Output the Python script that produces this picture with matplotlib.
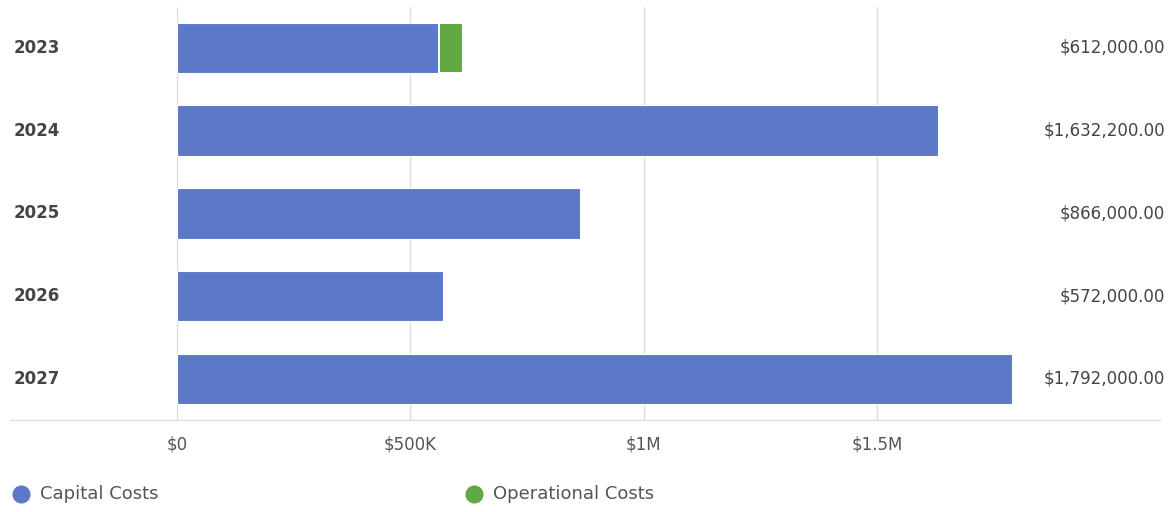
import matplotlib
matplotlib.use("Agg")
import matplotlib.pyplot as plt
import matplotlib.transforms as mtrans
from matplotlib.lines import Line2D

years = ["2023", "2024", "2025", "2026", "2027"]
capital = [562000, 1632200, 866000, 572000, 1792000]
operational = [50000, 0, 0, 0, 0]
totals = ["$612,000.00", "$1,632,200.00", "$866,000.00", "$572,000.00", "$1,792,000.00"]
xticks = [0, 500000, 1000000, 1500000]
xtick_labels = ["$0", "$500K", "$1M", "$1.5M"]
series_names = ["Capital Costs", "Operational Costs"]

blue = "#5b79c8"
green = "#61a842"
text_dark = "#444444"
text_mid = "#555555"

plt.rcParams['font.family'] = ['DejaVu Sans']

W, H = 1171, 512
fig = plt.figure(figsize=(W / 100, H / 100), dpi=100)
left_px, right_px = 177, 1017
top_px, bottom_px = 6.6, 420.3
ax = fig.add_axes([left_px / W, 1 - bottom_px / H, (right_px - left_px) / W, (bottom_px - top_px) / H])

ypos = list(range(len(years)))
ax.barh(ypos, capital, height=0.61, color=blue, edgecolor="white", linewidth=0.8, zorder=2)
ax.barh(ypos, operational, left=capital, height=0.61, color=green, edgecolor="white", linewidth=1.5, zorder=2)

ax.set_xlim(0, 1800000)
ax.set_ylim(len(years) - 0.5, -0.5)
ax.set_xticks(xticks)
ax.set_xticklabels(xtick_labels, color=text_mid, fontsize=12)
ax.tick_params(axis='x', length=0, pad=11)
ax.set_yticks([])
for s in ax.spines.values():
    s.set_visible(False)
ax.grid(axis='x', color="#dcdcdc", linewidth=1, zorder=0)
ax.set_axisbelow(True)

tr = mtrans.blended_transform_factory(fig.transFigure, ax.transData)
for i, y in enumerate(years):
    ax.text(14 / W, i, y, transform=tr, ha='left', va='center',
            fontsize=12, fontweight='bold', color=text_dark)
    ax.text(1165 / W, i, totals[i], transform=tr, ha='right', va='center',
            fontsize=12, color=text_dark)

# bottom baseline spanning full width
fig.add_artist(Line2D([10 / W, 1160 / W], [1 - bottom_px / H, 1 - bottom_px / H],
                      color="#dedede", linewidth=1, transform=fig.transFigure))

# legend
ly = 1 - 494 / H
fig.add_artist(Line2D([21 / W], [ly], marker='o', markersize=12, color=blue, linestyle='none',
                      transform=fig.transFigure))
fig.text(40 / W, ly, series_names[0], ha='left', va='center', fontsize=13, color=text_mid)
fig.add_artist(Line2D([474 / W], [ly], marker='o', markersize=12, color=green, linestyle='none',
                      transform=fig.transFigure))
fig.text(493 / W, ly, series_names[1], ha='left', va='center', fontsize=13, color=text_mid)

fig.savefig("out.png", dpi=100)
